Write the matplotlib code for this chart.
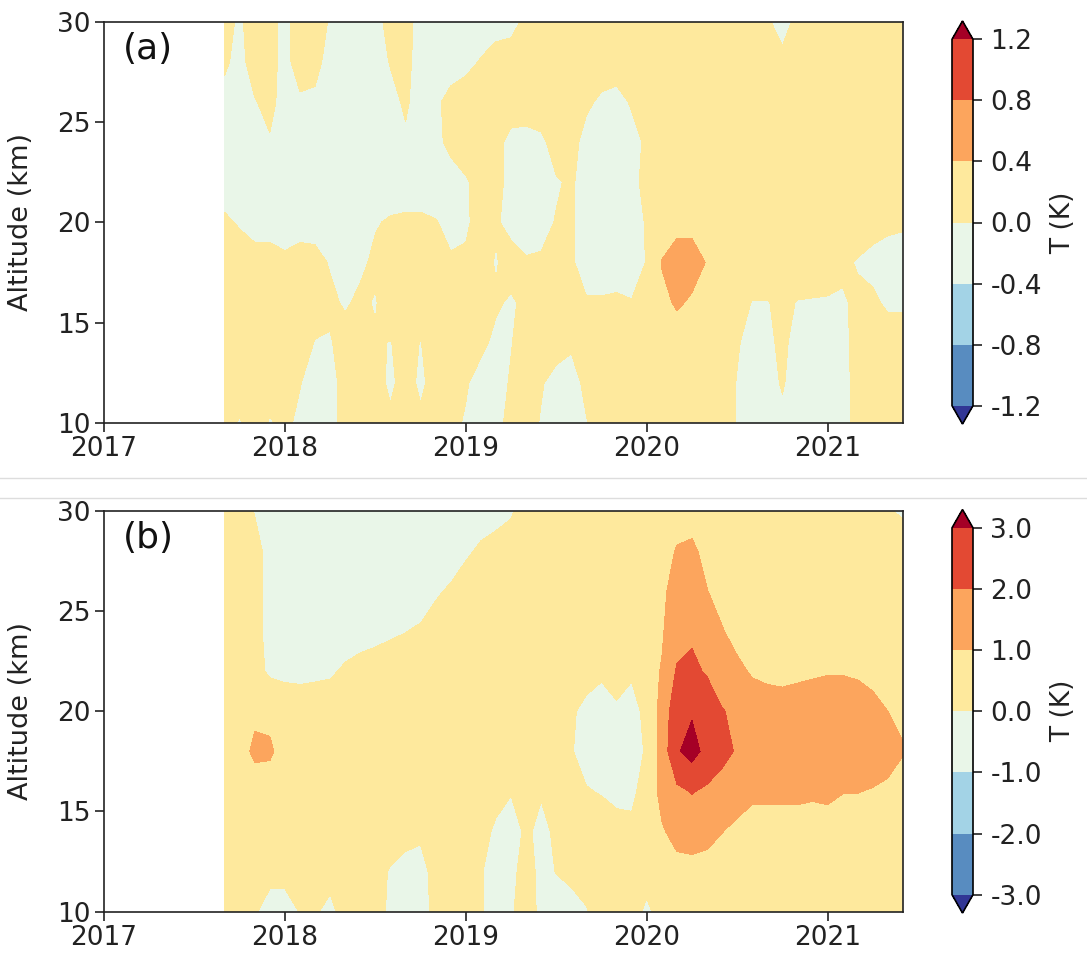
import numpy as np
import matplotlib
matplotlib.use('Agg')
import matplotlib.pyplot as plt
from matplotlib.lines import Line2D

plt.rcParams['axes.unicode_minus'] = False
plt.rcParams['font.family'] = ['DejaVu Sans']

# ---------------- data ----------------
# monthly time axis: Sep 2017 .. Jun 2021 (decimal years)
start_year, start_month, n_months = 2017, 9, 46
time = start_year + (start_month - 1 + np.arange(n_months)) / 12.0
altitude = [10, 12, 14, 16, 18, 20, 22, 24, 26, 28, 30]

xticks = [2017, 2018, 2019, 2020, 2021]
xtick_labels = ['2017', '2018', '2019', '2020', '2021']
yticks = [10, 15, 20, 25, 30]
levels_a = [-1.2, -0.8, -0.4, 0.0, 0.4, 0.8, 1.2]
levels_b = [-3.0, -2.0, -1.0, 0.0, 1.0, 2.0, 3.0]
panel_labels = ['(a)', '(b)']
cbar_label = 'T (K)'
ylabel = 'Altitude (km)'

# temperature anomaly (K), rows = altitude (10 -> 30 km), cols = months
anom_a = [
    # z = 10
    [.05, -.02, .10, -.02, .05, -.05, -.12, -.10, .10, .15,
     .10, .05, .10, .05, .10, .05, -.02, -.10, -.05, .05,
     .10, -.02, -.10, -.10, -.01, .10, .15, .15, .15, .10,
     .05, .10, .15, .10, -.01, -.10, -.10, -.05, -.10, -.12,
     -.12, -.10, .10, .15, .15, .15],
    # z = 12
    [.15, .15, .15, .10, .10, .01, -.10, -.10, .10, .15,
     .10, -.05, .10, -.05, .10, .10, .02, -.08, -.08, .02,
     .10, .02, -.08, -.08, .05, .15, .15, .15, .15, .15,
     .15, .15, .15, .10, -.01, -.10, -.08, .02, -.10, -.12,
     -.12, -.10, .10, .15, .15, .15],
    # z = 14
    [.15, .15, .15, .15, .15, .10, -.01, -.02, .10, .15,
     .03, -.01, .10, -.01, .15, .15, .10, .05, -.05, -.01,
     .10, .15, .10, .03, .15, .15, .15, .15, .15, .20,
     .20, .15, .15, .15, .02, -.08, -.05, .05, -.08, -.10,
     -.10, -.08, .10, .15, .15, .15],
    # z = 16
    [.15, .15, .15, .15, .15, .15, .10, .05, -.03, .05,
     -.02, .15, .15, .15, .15, .15, .15, .10, .03, -.03,
     .05, .15, .15, .10, .02, .03, .05, .01, .05, .30,
     .45, .35, .25, .15, .10, -.01, -.01, .05, -.01, -.02,
     -.02, -.03, .05, .05, -.05, -.05],
    # z = 18
    [.15, .15, .10, .10, .05, .10, .08, -.02, -.10, -.05,
     .05, .15, .15, .15, .10, .02, .02, .10, -.02, .10,
     .02, .02, .10, .03, -.10, -.15, -.15, -.10, .01, .42,
     .55, .55, .38, .15, .15, .15, .15, .15, .15, .15,
     .10, .05, -.02, -.08, -.10, -.10],
    # z = 20
    [.05, -.03, -.10, -.10, -.12, -.10, -.10, -.12, -.15, -.12,
     -.02, .03, .05, .05, .01, -.05, -.02, .05, .03, -.08,
     -.10, -.05, .01, .03, -.10, -.15, -.15, -.10, .02, .15,
     .30, .30, .15, .15, .15, .15, .15, .15, .15, .15,
     .15, .15, .15, .10, .05, .03],
    # z = 22
    [-.15, -.15, -.15, -.15, -.15, -.15, -.15, -.15, -.15, -.15,
     -.15, -.15, -.15, -.15, -.10, -.10, -.03, .10, .10, -.10,
     -.15, -.10, -.02, .03, -.10, -.15, -.15, -.08, .08, .15,
     .15, .15, .15, .15, .15, .15, .15, .15, .15, .15,
     .15, .15, .15, .15, .15, .15],
    # z = 24
    [-.15, -.15, -.15, -.03, -.15, -.15, -.15, -.15, -.15, -.15,
     -.15, -.15, -.05, -.15, -.06, .06, .15, .15, .08, -.08,
     -.10, -.05, .10, .10, -.10, -.15, -.15, -.10, .05, .15,
     .15, .15, .15, .15, .15, .15, .15, .15, .15, .15,
     .15, .15, .15, .15, .15, .15],
    # z = 26
    [-.10, -.15, -.02, .10, -.15, -.05, -.05, -.15, -.15, -.15,
     -.15, -.10, .05, -.15, -.06, .10, .15, .15, .15, .15,
     .15, .15, .15, .15, .05, -.05, -.10, .03, .15, .15,
     .15, .15, .15, .15, .15, .15, .15, .15, .15, .15,
     .15, .15, .15, .15, .15, .15],
    # z = 28
    [.05, -.10, .15, .10, -.10, .15, .08, -.10, -.15, -.15,
     -.15, .02, .10, -.15, -.15, -.15, -.08, .02, .15, .15,
     .15, .15, .15, .15, .15, .15, .15, .15, .15, .15,
     .15, .15, .15, .15, .15, .15, .15, .10, .15, .15,
     .15, .15, .15, .15, .15, .15],
    # z = 30
    [.10, -.05, .15, .10, -.10, .15, .10, -.02, -.15, -.15,
     -.10, .10, .10, -.10, -.15, -.15, -.15, -.15, -.15, -.10,
     .07, .15, .15, .15, .15, .15, .15, .15, .15, .15,
     .15, .15, .15, .15, .15, .15, .05, -.15, .10, .15,
     .15, .15, .15, .15, .15, .15],
]

anom_b = [
    # z = 10
    [.3, .3, .05, -.2, -.2, .02, .06, -.15, .22, .3,
     .3, -.15, -.3, -.3, .2, .3, .2, .05, -.3, -.1,
     .4, -.2, -.3, -.3, -.05, .3, .3, .2, -.1, .2,
     .3, .4, .4, .4, .4, .4, .4, .4, .4, .4,
     .4, .4, .4, .4, .4, .4],
    # z = 12
    [.4, .3, .15, .15, .15, .3, .3, .2, .4, .35,
     .2, -.05, -.15, -.2, .2, .4, .3, .05, -.3, -.2,
     .3, -.2, .02, .2, .3, .4, .4, .3, .2, .5,
     .7, .7, .7, .6, .5, .4, .4, .4, .4, .4,
     .4, .4, .4, .4, .4, .4],
    # z = 14
    [.4, .4, .4, .35, .35, .4, .4, .35, .4, .4,
     .4, .3, .15, .1, .3, .4, .4, .2, -.1, -.25,
     .1, -.15, .1, .3, .4, .4, .2, .15, .4, .9,
     1.3, 1.4, 1.25, 1.02, .8, .7, .7, .7, .7, .7,
     .7, .7, .6, .5, .5, .4],
    # z = 16
    [.5, .5, .5, .5, .4, .4, .4, .4, .4, .4,
     .4, .4, .4, .4, .4, .4, .4, .3, .2, .03,
     .1, .05, .2, .3, .05, -.05, -.15, -.15, .3, 1.3,
     1.8, 2.05, 1.85, 1.6, 1.4, 1.15, 1.15, 1.15, 1.15, 1.1,
     1.15, 1.02, 1.02, .95, .8, .6],
    # z = 18
    [.6, .6, 1.2, 1.15, .6, .4, .4, .4, .4, .4,
     .4, .4, .4, .4, .4, .4, .4, .4, .4, .4,
     .4, .4, .3, .05, -.3, -.3, -.3, -.3, .08, 1.4,
     2.9, 3.35, 2.7, 2.3, 1.9, 1.5, 1.5, 1.5, 1.55, 1.6,
     1.6, 1.55, 1.5, 1.45, 1.4, 1.05],
    # z = 20
    [.5, .6, .8, .75, .5, .4, .4, .4, .4, .4,
     .4, .4, .4, .4, .4, .4, .4, .4, .4, .4,
     .4, .4, .4, .1, -.2, -.4, -.15, -.4, .3, 1.3,
     2.7, 2.9, 2.6, 2.05, 1.8, 1.5, 1.3, 1.3, 1.35, 1.4,
     1.4, 1.4, 1.35, 1.2, 1.0, .85],
    # z = 22
    [.5, .5, .3, -.15, -.2, -.2, -.15, -.1, .1, .25,
     .3, .35, .4, .4, .4, .4, .4, .4, .4, .4,
     .4, .4, .4, .4, .3, .15, .4, .15, .7, 1.05,
     2.1, 2.2, 1.9, 1.5, 1.2, .9, .85, .8, .85, .9,
     .95, .95, .9, .8, .7, .6],
    # z = 24
    [.5, .5, .3, -.3, -.4, -.4, -.4, -.4, -.35, -.3,
     -.2, -.1, -.02, .1, .3, .4, .4, .4, .4, .4,
     .4, .4, .4, .4, .4, .4, .4, .4, .6, .9,
     1.6, 1.85, 1.6, 1.05, .7, .6, .5, .4, .4, .4,
     .4, .4, .4, .4, .4, .4],
    # z = 26
    [.5, .5, .3, -.3, -.4, -.4, -.4, -.4, -.4, -.4,
     -.4, -.4, -.4, -.4, -.1, .1, .3, .4, .4, .4,
     .4, .4, .4, .4, .4, .4, .4, .4, .6, .75,
     1.5, 1.6, 1.02, .7, .6, .5, .4, .4, .4, .4,
     .4, .4, .4, .4, .4, .4],
    # z = 28
    [.5, .5, .3, -.3, -.4, -.4, -.4, -.4, -.4, -.4,
     -.4, -.4, -.4, -.4, -.3, -.4, -.1, .1, .3, .4,
     .4, .4, .4, .4, .4, .4, .4, .4, .6, .7,
     1.05, 1.13, .8, .6, .5, .4, .4, .4, .4, .4,
     .4, .4, .4, .4, .4, .4],
    # z = 30
    [.5, .5, -.05, -.4, -.4, -.4, -.4, -.4, -.4, -.4,
     -.4, -.4, -.4, -.4, -.4, -.4, -.4, -.3, -.3, -.1,
     .4, .4, .4, .4, .4, .4, .4, .4, .5, .6,
     .7, .7, .6, .5, .4, .4, .4, .4, .4, .4,
     .4, .4, .4, .4, .05, -.1],
]

# ---------------- style ----------------
W, H = 1087, 961
fig = plt.figure(figsize=(W / 100, H / 100), dpi=100)

base = plt.get_cmap('RdYlBu_r')
fill_colors = [base(i / 7.0) for i in range(8)]   # under, 6 bins, over

ax_rects = [
    [104 / W, 1 - 423 / H, 799 / W, 401.3 / H],
    [104 / W, 1 - 911.7 / H, 799 / W, 401.0 / H],
]
cax_rects = [
    [952 / W, 1 - 424 / H, 21 / W, 403 / H],
    [952 / W, 1 - 913 / H, 21 / W, 403.5 / H],
]

datasets = [np.array(anom_a), np.array(anom_b)]
level_sets = [levels_a, levels_b]

for i in range(2):
    ax = fig.add_axes(ax_rects[i])
    cs = ax.contourf(time, altitude, datasets[i], levels=level_sets[i],
                     colors=fill_colors, extend='both')
    ax.set_xlim(2017, time[-1])
    ax.set_ylim(10, 30)
    ax.set_xticks(xticks)
    ax.set_xticklabels(xtick_labels)
    ax.set_yticks(yticks)
    ax.tick_params(labelsize=19, length=6.5, width=1.2, pad=3, colors='#222222')
    for sp in ax.spines.values():
        sp.set_linewidth(1.2)
        sp.set_color('#222222')
    ax.set_ylabel(ylabel, fontsize=19.5, color='#222222')
    ax.yaxis.set_label_coords(-0.087, 0.5)
    ax.text(0.024, 0.975, panel_labels[i], transform=ax.transAxes,
            fontsize=26, ha='left', va='top', color='#111111')

    cax = fig.add_axes(cax_rects[i])
    cb = fig.colorbar(cs, cax=cax, ticks=level_sets[i])
    cb.ax.set_yticklabels(['%.1f' % v for v in level_sets[i]])
    cb.ax.tick_params(labelsize=19, length=6.5, width=1.2, pad=6, colors='#222222')
    cb.outline.set_linewidth(1.2)
    cb.set_label(cbar_label, fontsize=19, labelpad=6, color='#222222')

# light separator lines between the two panels
for yy in (478, 498):
    fig.add_artist(Line2D([0, 1], [1 - yy / H, 1 - yy / H],
                          transform=fig.transFigure, color='#dddddd', lw=1))

fig.savefig('out.png', dpi=100)
